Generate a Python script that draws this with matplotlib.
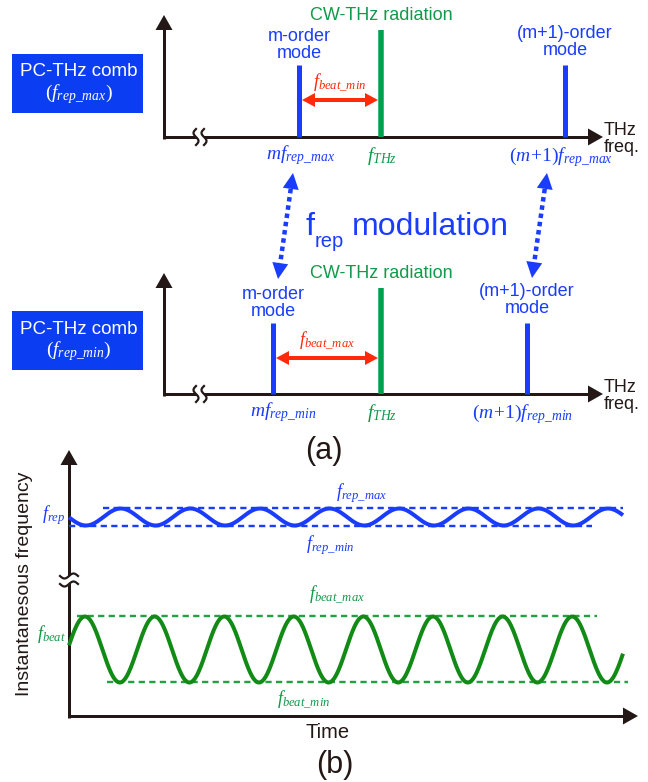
import numpy as np
import matplotlib
matplotlib.use("Agg")
import matplotlib.pyplot as plt
from matplotlib.patches import Rectangle

plt.rcParams['mathtext.fontset'] = 'custom'
plt.rcParams['mathtext.it'] = 'Liberation Serif:italic'
plt.rcParams['mathtext.rm'] = 'Liberation Serif'
plt.rcParams['mathtext.bf'] = 'Liberation Serif:bold'
SANS = 'Liberation Sans'

# ---------------- data (figure pixel coordinates) -------------
# panel (a): two comb states, top = f_rep_max, bottom = f_rep_min
axis_y      = [137, 394]      # THz-frequency axis height
axis_top    = [15, 273]       # tip of vertical axis arrow
mode_m_x    = [299, 273]      # m-order mode position
mode_m1_x   = [565, 527]      # (m+1)-order mode position
cw_x        = [381, 381]      # CW-THz radiation position
mode_top    = [65, 323]
cw_top      = [30, 288]
beat_y      = [100, 358]      # red beat-frequency arrow height
box_labels  = [r'$(f_{rep\_max})$', r'$(f_{rep\_min})$']
tick_m      = [r'$mf_{rep\_max}$', r'$mf_{rep\_min}$']
tick_m1     = [r'$(m\!+\!1)f_{rep\_max}$', r'$(m\!+\!1)f_{rep\_min}$']
beat_labels = [r'$f_{beat\_min}$', r'$f_{beat\_max}$']

# f_rep modulation arrows (top tip, bottom tip)
mod_arrows = [((293, 173), (278, 279)), ((547, 173), (532, 278))]

# panel (b): sinusoidal time traces
t_start, t_end = 69, 623
wave_period = 69.6
rep_center, rep_amp, rep_min_x = 517, 8.5, 86
beat_center, beat_amp, beat_max_x = 649.5, 33, 85
rep_max_line  = (508, 103, 623)   # y, x0, x1
rep_min_line  = (526, 69, 592)
beat_max_line = (616, 77, 597)
beat_min_line = (682, 107, 628)

# ---------------- colours ----------------
AX = '#231815'
BLUE = '#1a3cff'
BOX = '#0b3ef2'
GREEN_CW = '#00a04e'
GREEN_T = '#119a4a'
GREEN_W = '#128a16'
GREEN_D = '#22a044'
RED = '#ff2a0a'

fig = plt.figure(figsize=(6.48, 7.82), dpi=100)
ax = fig.add_axes([0, 0, 1, 1])
ax.set_xlim(0, 648)
ax.set_ylim(782, 0)
ax.axis('off')

PX = 0.72  # px -> pt


def head(tip, direction, length, width, color, z=5):
    d = np.array(direction, float)
    d /= np.hypot(*d)
    n = np.array([-d[1], d[0]])
    tip = np.array(tip, float)
    base = tip - d * length
    pts = np.array([tip, base + n * width / 2, base - n * width / 2])
    ax.fill(pts[:, 0], pts[:, 1], color=color, lw=0, zorder=z)
    return base


def axis_arrow(x0, y0, x1, y1, color=AX, lw=3, hl=15, hw=17):
    base = head((x1, y1), (x1 - x0, y1 - y0), hl, hw, color)
    ax.plot([x0, base[0] + (x1 - x0) * 0.02], [y0, base[1] + (y1 - y0) * 0.02],
            color=color, lw=lw * PX, solid_capstyle='butt', zorder=4)


def hbreak(xc, yc):
    # break on a horizontal axis (two vertical squiggles)
    t = np.linspace(-1, 1, 40)
    ax.fill_betweenx(yc + 8 * t, xc - 4 + 2.5 * np.sin(np.pi * t), xc + 4 + 2.5 * np.sin(np.pi * t),
                     color='white', zorder=6, lw=0)
    for off in (-4, 4):
        ax.plot(xc + off + 2.5 * np.sin(np.pi * t), yc + 8 * t, color=AX, lw=2.2 * PX, zorder=7)


def vbreak(xc, yc):
    t = np.linspace(-1, 1, 40)
    ax.fill_between(xc + 9 * t, yc - 4 - 2.5 * np.sin(np.pi * t), yc + 4 - 2.5 * np.sin(np.pi * t),
                    color='white', zorder=6, lw=0)
    for off in (-4, 4):
        ax.plot(xc + 9 * t, yc + off - 2.5 * np.sin(np.pi * t), color=AX, lw=2.2 * PX, zorder=7)


# ---------------- panel (a) ----------------
for i in range(2):
    ya = axis_y[i]
    axis_arrow(164, ya + 1.5, 164, axis_top[i])
    axis_arrow(164 - 1.5, ya, 603, ya)
    hbreak(200, ya)
    # comb box
    ax.add_patch(Rectangle((12, axis_y[i] - 83), 131, 59, color=BOX, lw=0, zorder=3))
    ax.text(79, ya - 65, 'PC-THz comb', color='white', fontsize=13.5, family=SANS,
            ha='center', va='center', zorder=4)
    ax.text(79, ya - 43, box_labels[i], color='white', fontsize=14,
            ha='center', va='center', zorder=4)
    # mode lines
    for xm, top, col, w in [(mode_m_x[i], mode_top[i], BLUE, 5),
                             (mode_m1_x[i], mode_top[i], BLUE, 5),
                             (cw_x[i], cw_top[i], GREEN_CW, 5.5)]:
        ax.plot([xm, xm], [ya, top], color=col, lw=w * PX, solid_capstyle='butt', zorder=5)
    # red beat arrow
    yb = beat_y[i]
    xl, xr = mode_m_x[i] + 3, cw_x[i] - 3
    bl = head((xl, yb), (-1, 0), 13, 14, RED)
    br = head((xr, yb), (1, 0), 13, 14, RED)
    ax.plot([bl[0] - 1, br[0] + 1], [yb, yb], color=RED, lw=4 * PX, solid_capstyle='butt', zorder=5)
    ax.text((mode_m_x[i] + cw_x[i]) / 2, yb - 17, beat_labels[i], color=RED, fontsize=13,
            ha='center', va='center')
    # labels
    ax.text(cw_x[i], cw_top[i] - 14, 'CW-THz radiation', color=GREEN_T, fontsize=13,
            family=SANS, ha='center', va='center')
    ax.text(mode_m_x[i], mode_top[i] - 20, 'm-order\nmode', color=BLUE, fontsize=13,
            family=SANS, ha='center', va='center', linespacing=0.95)
    ax.text(mode_m1_x[i], mode_top[i] - 23, '(m+1)-order\nmode', color=BLUE, fontsize=13,
            family=SANS, ha='center', va='center', linespacing=0.95)
    ax.text(604, ya + 2, 'THz\nfreq.', color=AX, fontsize=13, family=SANS,
            ha='left', va='center', linespacing=0.95)
    ax.text(mode_m_x[i] + 2 + (8 if i else 0), ya + 18, tick_m[i], color=BLUE, fontsize=14,
            ha='center', va='center')
    ax.text(cw_x[i] + 1, ya + 19, r'$f_{THz}$', color=GREEN_T, fontsize=14,
            ha='center', va='center')
    ax.text(mode_m1_x[i] - 4, ya + 20, tick_m1[i], color=BLUE, fontsize=14,
            ha='center', va='center')

# f_rep modulation arrows
for top, bot in mod_arrows:
    d = (bot[0] - top[0], bot[1] - top[1])
    b1 = head(top, (-d[0], -d[1]), 16, 16, BLUE)
    b2 = head(bot, d, 16, 16, BLUE)
    ax.plot([b1[0], b2[0]], [b1[1], b2[1]], color=BLUE, lw=4.5 * PX,
            linestyle=(0, (1.0, 0.85)), dash_capstyle='butt', zorder=5)

ax.text(305, 235, 'f', color=BLUE, fontsize=23, family=SANS, ha='left', va='baseline')
ax.text(315, 247, 'rep', color=BLUE, fontsize=14.5, family=SANS, ha='left', va='baseline')
ax.text(352, 235, 'modulation', color=BLUE, fontsize=23, family=SANS, ha='left', va='baseline')

ax.text(324, 451, '(a)', color=AX, fontsize=22, family=SANS, ha='center', va='center')

# ---------------- panel (b) ----------------
axis_arrow(69, 717.5, 69, 450)
axis_arrow(67.5, 716, 638, 716)
vbreak(69, 580)

x = np.linspace(t_start, t_end, 800)
y_rep = rep_center + rep_amp * np.cos(2 * np.pi * (x - rep_min_x) / wave_period)
y_beat = beat_center - beat_amp * np.cos(2 * np.pi * (x - beat_max_x) / wave_period)
ax.plot(x, y_rep, color=BLUE, lw=4 * PX, zorder=5, solid_capstyle='butt')
ax.plot(x, y_beat, color=GREEN_W, lw=4 * PX, zorder=5, solid_capstyle='butt')

for (yl, x0, x1), col in [(rep_max_line, BLUE), (rep_min_line, BLUE),
                          (beat_max_line, GREEN_D), (beat_min_line, GREEN_D)]:
    ax.plot([x0, x1], [yl, yl], color=col, lw=2.4 * PX, linestyle=(0, (2.6, 1.8)),
            dash_capstyle='butt', zorder=4)

ax.text(65, 515, r'$f_{rep}$', color=BLUE, fontsize=13, ha='right', va='center')
ax.text(66, 634, r'$f_{beat}$', color=GREEN_T, fontsize=13, ha='right', va='center')
ax.text(362, 493, r'$f_{rep\_max}$', color=BLUE, fontsize=13, ha='center', va='center')
ax.text(330, 545, r'$f_{rep\_min}$', color=BLUE, fontsize=13, ha='center', va='center')
ax.text(337, 595, r'$f_{beat\_max}$', color=GREEN_T, fontsize=13, ha='center', va='center')
ax.text(304, 700, r'$f_{beat\_min}$', color=GREEN_T, fontsize=13, ha='center', va='center')

ax.text(25, 584, 'Instantanesous frequency', color=AX, fontsize=14, family=SANS,
        rotation=90, ha='center', va='center')
ax.text(328, 733, 'Time', color=AX, fontsize=14.5, family=SANS, ha='center', va='center')
ax.text(335, 765, '(b)', color=AX, fontsize=22, family=SANS, ha='center', va='center')

fig.savefig('out.png', dpi=100)
